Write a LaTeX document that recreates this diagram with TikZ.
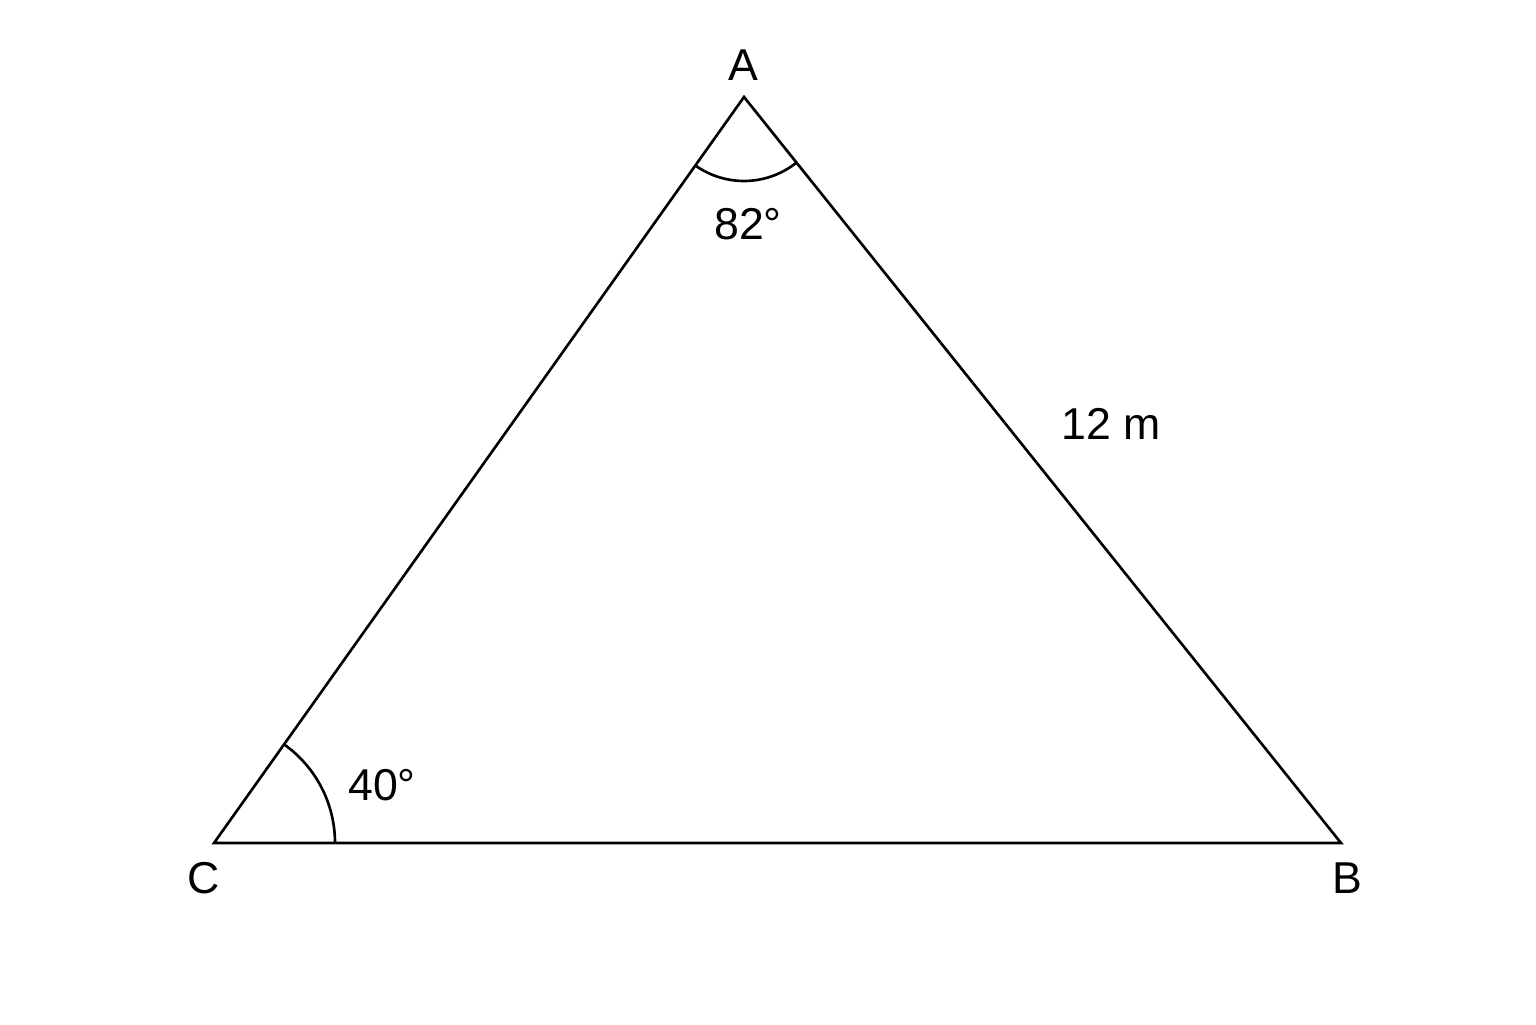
\documentclass[tikz,border=0pt]{standalone}
\usepackage{fontspec}
\setmainfont{Liberation Sans}
\usepackage{tikz}

\begin{document}
\begin{tikzpicture}[line width=0.75pt,
        lbl/.style={font=\fontsize{12.7}{15}\selectfont, inner sep=0pt}]
        \useasboundingbox (0,0) rectangle (15.36,10.24);
        \coordinate (A) at (7.44,9.27);
        \coordinate (B) at (13.41,1.81);
        \coordinate (C) at (2.14,1.81);
        \draw (A) -- (B) -- (C) -- cycle;
        % angle marks
        \draw ([shift={(234.6:0.84)}]A) arc (234.6:308.7:0.84);
        \draw ([shift={(0:1.21)}]C) arc (0:54.6:1.21);
        \node[lbl] (lA) at (7.43,9.59) {A};
        \node[lbl] (lB) at (13.47,1.46) {B};
        \node[lbl] (lC) at (2.04,1.46) {C};
        \node[lbl] (angA) at (7.48,8.00) {82°};
        \node[lbl] (angC) at (3.82,2.39) {40°};
        \node[lbl] (side) at (11.11,6.00) {12 m};
\end{tikzpicture}
\end{document}
